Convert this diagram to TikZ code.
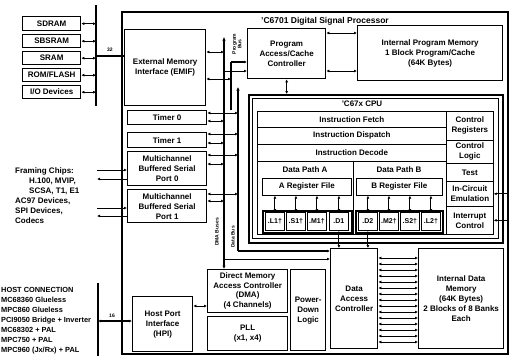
\documentclass[tikz,border=0pt]{standalone}
\usepackage{fontspec}
\setmainfont{Liberation Sans}
\usetikzlibrary{arrows.meta}
\newcommand\dfont{\fontsize{8}{10}\selectfont\bfseries}
\newcommand\ufont{\fontsize{7}{8}\selectfont\bfseries}
\newcommand\tinyfont{\fontsize{5}{5.5}\selectfont\bfseries}
\begin{document}
\begin{tikzpicture}[x=1pt,y=-1pt,
  box/.style={draw, line width=1.3pt, inner sep=0pt, align=center, font=\dfont, anchor=north west},
  tbox/.style={draw, line width=0.7pt, inner sep=0pt, align=center, font=\dfont, anchor=north west},
  fu/.style={draw, line width=0.8pt, inner sep=0pt, align=center, font=\ufont, anchor=north west, minimum width=19pt, minimum height=18pt},
  frame/.style={draw, line width=1.6pt, inner sep=0pt, anchor=north west},
  darr/.style={{Latex[length=3pt,width=3pt]}-{Latex[length=3pt,width=3pt]}, line width=0.9pt},
  arr/.style={-{Latex[length=3pt,width=3pt]}, line width=0.9pt},
  busline/.style={line width=2pt},
  lbl/.style={font=\dfont, inner sep=0pt},
  vlbl/.style={font=\tinyfont, rotate=90, inner sep=0pt, align=center},
]
\useasboundingbox (0,0) rectangle (512,356);
\clip (0,0) rectangle (512,356);

% external memories
\node[box, minimum width=58pt, minimum height=14pt] (sdram) at (22,16) {SDRAM};
\node[box, minimum width=58pt, minimum height=13pt] (sbsram) at (22,34) {SBSRAM};
\node[box, minimum width=58pt, minimum height=13pt] (sram) at (22,51) {SRAM};
\node[box, minimum width=58pt, minimum height=13pt] (rom) at (22,68) {ROM/FLASH};
\node[box, minimum width=58pt, minimum height=13pt] (io) at (22,85) {I/O Devices};
\coordinate (mbT) at (96,5);
\coordinate (mbB) at (96,106);
\coordinate (m32) at (96,56);
\draw[busline] (mbT) -- (mbB);
\foreach \n in {sdram,sbsram,sram,rom,io} \draw[darr] (\n.east) -- (\n.east -| mbT);

% DSP frame
\node[draw, line width=1.5pt, anchor=north west, minimum width=386pt, minimum height=342pt, inner sep=0pt] (dsp) at (121,11) {};
\node[lbl, font=\fontsize{8.5}{10}\selectfont\bfseries] (title) at (325,21) {'C6701 Digital Signal Processor};

% EMIF and peripherals
\node[box, minimum width=81pt, minimum height=76pt] (emif) at (124,29) {External Memory\\Interface (EMIF)};
\draw[busline] (m32) -- (emif.west |- m32);
\node[lbl, font=\tinyfont] (n32) at (110,50) {32};
\node[box, minimum width=79pt, minimum height=14pt] (timer0) at (127,110) {Timer 0};
\node[box, minimum width=79pt, minimum height=15pt] (timer1) at (127,132) {Timer 1};
\node[box, minimum width=79pt, minimum height=34pt] (mcbsp0) at (127,151) {Multichannel\\Buffered Serial\\Port 0};
\node[box, minimum width=79pt, minimum height=33pt] (mcbsp1) at (127,189) {Multichannel\\Buffered Serial\\Port 1};

% program access and memory
\node[box, minimum width=78pt, minimum height=50pt] (pacc) at (247,28) {Program\\Access/Cache\\Controller};
\node[box, minimum width=145pt, minimum height=55pt] (ipm) at (357,25) {Internal Program Memory\\1 Block Program/Cache\\(64K Bytes)};
\draw[darr] (pacc.east |- 0,33) -- (ipm.west |- 0,33);
\draw[darr] (pacc.east |- 0,71) -- (ipm.west |- 0,71);

% CPU
\node[frame, minimum width=254pt, minimum height=148pt] (cpu) at (248,94) {};
\node[draw, line width=0.6pt, inner sep=0pt, anchor=north west, minimum width=246pt, minimum height=140pt] (cpuin) at (252,98) {};
\node[lbl] (cputitle) at (362,104) {'C67x CPU};
\draw[darr, line width=1.2pt] (pacc.south) -- (pacc.south |- cpu.north);

\node[tbox, minimum width=189pt, minimum height=16pt] (ifetch) at (257,111) {Instruction Fetch};
\node[tbox, minimum width=189pt, minimum height=17pt] (idisp) at (257,127) {Instruction Dispatch};
\node[tbox, minimum width=189pt, minimum height=17pt] (idec) at (257,144) {Instruction Decode};
\node[tbox, minimum width=96pt, minimum height=73pt] (dpa) at (257,161) {};
\node[tbox, minimum width=93pt, minimum height=73pt] (dpb) at (353,161) {};
\node[lbl] (dpatxt) at (305,170) {Data Path A};
\node[lbl] (dpbtxt) at (399,170) {Data Path B};
\node[tbox, minimum width=89pt, minimum height=17pt] (aregs) at (262,178) {A Register File};
\node[tbox, minimum width=86pt, minimum height=17pt] (bregs) at (356,178) {B Register File};
\node[frame, minimum width=89pt, minimum height=22pt] (ua) at (262,210) {};
\node[frame, minimum width=87pt, minimum height=22pt] (ub) at (355,210) {};
\node[fu] (l1) at (265,212) {.L1†};
\node[fu] (s1) at (286,212) {.S1†};
\node[fu] (m1) at (307,212) {.M1†};
\node[fu] (d1) at (329,212) {.D1};
\node[fu] (d2) at (358,212) {.D2};
\node[fu] (m2) at (379,212) {.M2†};
\node[fu] (s2) at (400,212) {.S2†};
\node[fu] (l2) at (421,212) {.L2†};
\foreach \u/\r in {l1/aregs,s1/aregs,m1/aregs,d1/aregs,d2/bregs,m2/bregs,s2/bregs,l2/bregs}
  \draw[darr] (\u.north) -- (\u.north |- \r.south);

\node[tbox, minimum width=47pt, minimum height=29pt] (creg) at (446,111) {Control\\Registers};
\node[tbox, minimum width=47pt, minimum height=23pt] (clog) at (446,140) {Control\\Logic};
\node[tbox, minimum width=47pt, minimum height=18pt] (test) at (446,163) {Test};
\node[tbox, minimum width=47pt, minimum height=25pt] (ice) at (446,181) {In-Circuit\\Emulation};
\node[tbox, minimum width=47pt, minimum height=28pt] (intc) at (446,206) {Interrupt\\Control};
\draw[arr] (dsp.east |- ice.east) -- (ice.east);
\draw[arr] (dsp.east |- intc.east) -- (intc.east);

% data access and memory
\node[box, minimum width=47pt, minimum height=100pt] (dac) at (330,248) {Data\\Access\\Controller};
\node[box, minimum width=85pt, minimum height=100pt] (idm) at (418,248) {Internal Data\\Memory\\(64K Bytes)\\2 Blocks of 8 Banks\\Each};
\foreach \y in {258,264,...,342} \draw[darr, line width=0.8pt] (dac.east |- 0,\y) -- (idm.west |- 0,\y);
\draw[darr] (d1.south) -- (d1.south |- dac.north);
\draw[darr] (d2.south) -- (d2.south |- dac.north);

% bottom blocks
\node[box, minimum width=60pt, minimum height=55pt] (hpi) at (132,296) {Host Port\\Interface\\(HPI)};
\node[box, minimum width=80pt, minimum height=43pt, font=\fontsize{8}{9.5}\selectfont\bfseries] (dma) at (207,269) {Direct Memory\\Access Controller\\(DMA)\\(4 Channels)};
\node[box, minimum width=80pt, minimum height=34pt] (pll) at (207,316) {PLL\\(x1, x4)};
\node[box, minimum width=35pt, minimum height=81pt] (pdl) at (290,269) {Power-\\Down\\Logic};
\draw[darr] (hpi.east |- 0,306) -- (dma.west |- 0,306);

% host bus
\coordinate (hbT) at (98,283);
\coordinate (hbB) at (98,356);
\draw[busline] (hbT) -- (hbB);
\draw[darr, line width=1.4pt] (hbT |- 0,321) -- (hpi.west |- 0,321);
\node[lbl, font=\tinyfont] (n16) at (112,316) {16};

% internal buses
\coordinate (dmaT) at (224,37);
\coordinate (pbT) at (231,62);
\coordinate (pbB) at (231,110);
\coordinate (dbT) at (238,87);
\coordinate (dbB) at (238,251);
\draw[{Latex[length=3.5pt,width=3.5pt]}-{Latex[length=3.5pt,width=3.5pt]}, line width=1.6pt] (dmaT) -- (dmaT |- dma.north);
\draw[line width=1.6pt] (pbB) -- (pbT);
\draw[arr, line width=1.2pt] (pbT) -- (pacc.west |- pbT);
\draw[arr] (dmaT |- 0,71) -- (pacc.west |- 0,71);
\draw[{Latex[length=3.5pt,width=3.5pt]}-, line width=1.6pt] (dbT) -- (dbB);
\draw[arr, line width=1.2pt] (dbB) -- (dac.west |- dbB);
\draw[arr] (dmaT |- 0,259) -- (dac.west |- 0,259);
\node[vlbl] (pblbl) at (237,44) {Program\\Bus};
\node[vlbl] (dmalbl) at (217,232) {DMA Buses};
\node[vlbl] (dblbl) at (233,237) {Data Bus};

\draw[darr] (emif.east |- 0,52) -- (dmaT |- 0,52);
\draw[darr] (emif.east |- 0,79) -- (pbT |- 0,79);
\foreach \b/\ya/\yb in {timer0/113/121, timer1/134/143, mcbsp0/155/164, mcbsp1/194/201} {
  \draw[darr] (\b.east |- 0,\ya) -- (dbT |- 0,\ya);
  \draw[darr] (\b.east |- 0,\yb) -- (dmaT |- 0,\yb);
}

% serial port external lines
\coordinate (f1) at (97,170);
\coordinate (f2) at (97,179);
\coordinate (f3) at (97,208);
\coordinate (f4) at (97,216);
\draw[arr] (f1) -- (mcbsp0.west |- f1);
\draw[arr] (mcbsp0.west |- f2) -- (f2);
\draw[arr] (f3) -- (mcbsp1.west |- f3);
\draw[arr] (mcbsp1.west |- f4) -- (f4);

% left texts
\node[lbl, align=left, anchor=north west] (fram) at (15,168) {Framing Chips:\\\hspace*{14pt}H.100, MVIP,\\\hspace*{14pt}SCSA, T1, E1\\AC97 Devices,\\SPI Devices,\\Codecs};
\node[lbl, align=left, anchor=north west, font=\fontsize{7.4}{10.1}\selectfont\bfseries] (host) at (1,287) {HOST CONNECTION\\MC68360 Glueless\\MPC860 Glueless\\PCI9050 Bridge + Inverter\\MC68302 + PAL\\MPC750 + PAL\\MPC960 (Jx/Rx) + PAL};
\end{tikzpicture}
\end{document}
